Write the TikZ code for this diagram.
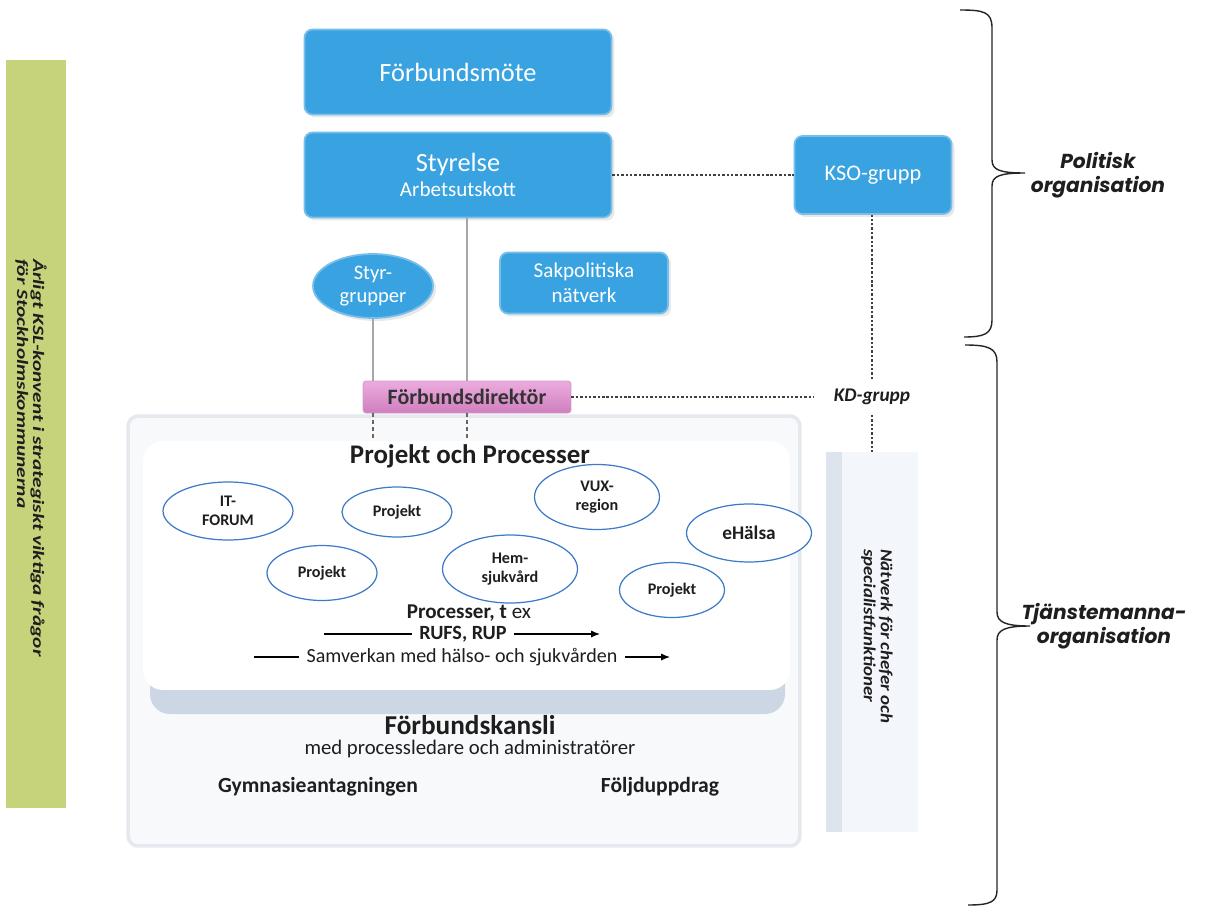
\documentclass[tikz,border=0pt]{standalone}
\usepackage{fontspec}
\setmainfont{Carlito}
\newfontfamily\gothic{Poppins}
\newfontfamily\barfont[FakeStretch=1.35]{Carlito}
\newfontfamily\netfont[FakeStretch=1.12]{Carlito}
\usetikzlibrary{shapes.geometric,shadows,arrows.meta}
\definecolor{boxblue}{RGB}{57,163,226}
\definecolor{boxedge}{RGB}{120,190,235}
\definecolor{bargreen}{RGB}{199,211,122}
\definecolor{pinktop}{RGB}{236,172,222}
\definecolor{pinkbot}{RGB}{206,126,190}
\definecolor{ellblue}{RGB}{62,122,200}
\definecolor{txtdark}{RGB}{30,30,30}
\definecolor{panelgray}{RGB}{248,249,251}
\definecolor{paneledge}{RGB}{228,233,240}
\definecolor{shadowblue}{RGB}{205,214,228}
\definecolor{netfill}{RGB}{243,246,250}
\definecolor{netstripe}{RGB}{222,228,238}
\begin{document}
\begin{tikzpicture}[x=0.02cm,y=-0.02cm,
  bluebox/.style={rectangle, rounded corners=0.16cm, fill=boxblue, draw=boxedge, line width=1pt,
    text=white, align=center, drop shadow={shadow xshift=0.6mm, shadow yshift=-0.6mm, opacity=0.18}},
  blueell/.style={ellipse, fill=boxblue, draw=boxedge, line width=1pt, text=white, align=center, inner sep=0pt,
    drop shadow={shadow xshift=0.6mm, shadow yshift=-0.6mm, opacity=0.18}},
  projell/.style={ellipse, draw=ellblue, line width=0.7pt, fill=white, align=center, inner sep=0pt,
    text=txtdark, font=\bfseries\fontsize{9.2}{10.5}\selectfont},
  solidline/.style={draw=gray!70, line width=0.6pt},
  dotline/.style={draw=black!75, line width=0.8pt, dash pattern=on 1.4pt off 1.1pt},
  shortdash/.style={draw=black!60, line width=0.6pt, dash pattern=on 2pt off 2pt},
  bracepath/.style={draw=black!85, line width=0.8pt},
  sidelabel/.style={font=\gothic\bfseries\itshape\fontsize{11.5}{14}\selectfont, align=center, text=txtdark},
  bodytext/.style={text=txtdark},
]
\useasboundingbox (0,0) rectangle (1209,912);
\fill[white] (0,0) rectangle (1209,912);

% left green bar
\node[rectangle, fill=bargreen, minimum width=1.22cm, minimum height=14.96cm, inner sep=0pt] (bar) at (36,434) {};
\node[rotate=-90, anchor=west, align=left, text=txtdark, font=\barfont\bfseries\itshape\fontsize{9}{9}\selectfont]
  (bartext) at (31,253) {Årligt KSL-konvent i strategiskt viktiga frågor\\för Stockholmskommunerna};

% outer panel (Förbundskansli)
\node[rectangle, rounded corners=0.2cm, fill=panelgray, draw=paneledge, line width=2pt,
  minimum width=13.44cm, minimum height=8.6cm, inner sep=0pt] (outer) at (464,631) {};
% network panel
\node[rectangle, fill=netfill, minimum width=1.84cm, minimum height=7.6cm, inner sep=0pt] (net) at (872,642) {};
\fill[netstripe] (net.north west) rectangle ([xshift=0.32cm]net.south west);
\node[rotate=-90, anchor=west, align=left, text=txtdark, font=\netfont\bfseries\itshape\fontsize{9.6}{9.6}\selectfont]
  (nettext) at (877,543) {Nätverk för chefer och\\specialistfunktioner};

% inner panel shadow and inner panel
\fill[shadowblue, rounded corners=0.4cm] (150,470) rectangle (785,714);
\node[rectangle, rounded corners=0.4cm, fill=white, minimum width=12.94cm, minimum height=4.98cm,
  inner sep=0pt] (inner) at (466.5,565.5) {};

% blue boxes
\node[bluebox, minimum width=6.14cm, minimum height=1.7cm, font=\fontsize{15}{18}\selectfont] (fm) at (458,72) {Förbundsmöte};
\node[bluebox, minimum width=6.14cm, minimum height=1.7cm, font=\fontsize{12}{14}\selectfont] (sty) at (458,175)
  {{\fontsize{15}{18}\selectfont Styrelse}\\Arbetsutskott};
\node[bluebox, minimum width=3.14cm, minimum height=1.56cm, font=\fontsize{12.7}{15}\selectfont] (kso) at (873,175) {KSO-grupp};
\node[blueell, minimum width=2.4cm, minimum height=1.28cm, font=\fontsize{11.7}{13}\selectfont] (styr) at (373,286) {Styr-\\grupper};
\node[bluebox, minimum width=3.36cm, minimum height=1.22cm, font=\fontsize{12}{14}\selectfont] (sak) at (584,283) {Sakpolitiska\\nätverk};

% Förbundsdirektör
\node[rectangle, rounded corners=0.06cm, top color=pinktop, bottom color=pinkbot, draw=pinkbot!80!white,
  minimum width=4.16cm, minimum height=0.64cm, inner sep=0pt, text=black!80,
  font=\bfseries\fontsize{12.5}{14}\selectfont] (fd) at (467,397) {Förbundsdirektör};

% KD-grupp
\node[rectangle, fill=white, minimum width=2.3cm, minimum height=0.7cm, inner sep=0pt, text=txtdark,
  font=\bfseries\itshape\fontsize{11}{13}\selectfont] (kd) at (872,397) {KD-grupp};

% connectors
\draw[solidline] (sty.south -| fd.north) -- (fd.north);
\draw[solidline] (styr.south) -- (styr.south |- fd.north);
\draw[shortdash] (fd.south -| styr.south) -- (styr.south |- inner.north);
\draw[shortdash] (fd.south) -- (fd.south |- inner.north);
\draw[dotline] (sty.east) -- (kso.west);
\draw[dotline] (kd.north) -- (kd.north |- kso.south);
\draw[dotline] (fd.east) -- (kd.west);
\draw[dotline] (kd.south) -- (kd.south |- net.north);

% Projekt och Processer
\node[bodytext, font=\bfseries\fontsize{15.3}{18}\selectfont] (pop) at (470,456) {Projekt och Processer};
\node[projell, minimum width=2.6cm, minimum height=1.16cm] (itf) at (228,511) {IT-\\FORUM};
\node[projell, minimum width=2.2cm, minimum height=1.0cm] (p1) at (397,512) {Projekt};
\node[projell, minimum width=2.5cm, minimum height=1.3cm] (vux) at (597,497) {VUX-\\region};
\node[projell, minimum width=2.5cm, minimum height=1.16cm, font=\bfseries\fontsize{11}{13}\selectfont] (ehl) at (749,533) {eHälsa};
\node[projell, minimum width=2.2cm, minimum height=1.1cm] (p2) at (322,573) {Projekt};
\node[projell, minimum width=2.7cm, minimum height=1.36cm] (hem) at (510,569) {Hem-\\sjukvård};
\node[projell, minimum width=2.1cm, minimum height=1.1cm] (p3) at (672,590) {Projekt};

\node[bodytext, font=\fontsize{12}{14}\selectfont] (proc) at (469,613) {\textbf{Processer, t} ex};
\node[bodytext, font=\bfseries\fontsize{11.5}{13}\selectfont, inner xsep=4pt] (rufs) at (463,634) {RUFS, RUP};
\coordinate (rufsL) at (324,634);
\coordinate (rufsR) at (600,634);
\draw[black, line width=0.7pt] (rufsL) -- (rufs.west);
\draw[black, line width=0.7pt, -{Latex[length=5pt,width=4pt]}] (rufs.east) -- (rufsR);
\node[bodytext, font=\fontsize{11.4}{13}\selectfont, inner xsep=4pt] (samv) at (462,657) {Samverkan med hälso- och sjukvården};
\coordinate (samvL) at (254,657);
\coordinate (samvR) at (670,657);
\draw[black, line width=0.7pt] (samvL) -- (samv.west);
\draw[black, line width=0.7pt, -{Latex[length=5pt,width=4pt]}] (samv.east) -- (samvR);

% Förbundskansli
\node[bodytext, font=\bfseries\fontsize{15.5}{18}\selectfont] (fk) at (470,725) {Förbundskansli};
\node[bodytext, font=\fontsize{11.8}{14}\selectfont] (fksub) at (470,749) {med processledare och administratörer};
\node[bodytext, font=\bfseries\fontsize{12.3}{14}\selectfont] (gym) at (318,787) {Gymnasieantagningen};
\node[bodytext, font=\bfseries\fontsize{12.3}{14}\selectfont] (folj) at (660,787) {Följduppdrag};

% braces
\draw[bracepath] (960,10) .. controls (984,10) and (992,12) .. (992,28) -- (992,160)
  .. controls (992,170) and (1000,173) .. (1025,173)
  .. controls (1000,173) and (992,176) .. (992,186) -- (992,320)
  .. controls (992,334) and (984,337) .. (964,337);
\draw[bracepath] (965,345) .. controls (988,345) and (997,348) .. (997,362) -- (997,612)
  .. controls (997,622) and (1005,626) .. (1030,626)
  .. controls (1005,626) and (997,630) .. (997,640) -- (997,890)
  .. controls (997,902) and (990,905) .. (968,905);
\node[sidelabel] (polit) at (1098,175) {Politisk\\organisation};
\node[sidelabel] (tjan) at (1104,626) {Tjänstemanna-\\organisation};
\end{tikzpicture}
\end{document}
